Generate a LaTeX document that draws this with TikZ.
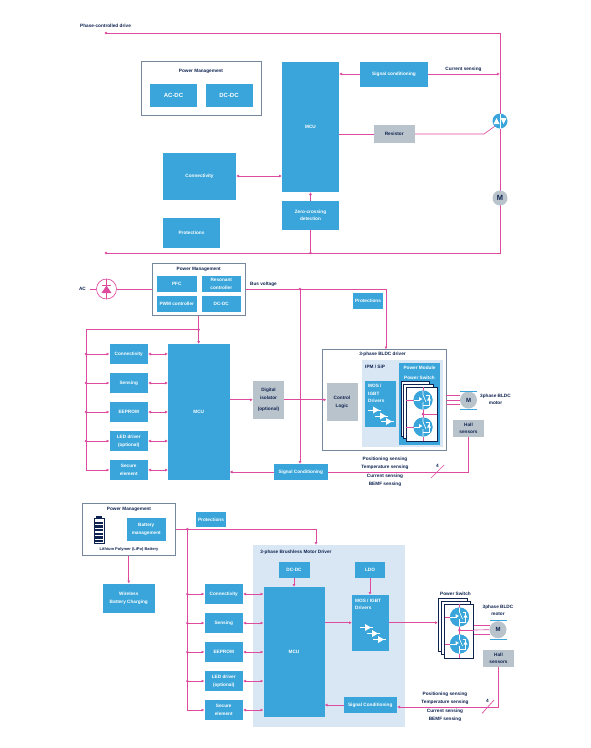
\documentclass[tikz,border=0pt]{standalone}
\usepackage{fontspec}
\setmainfont{Liberation Sans}
\usetikzlibrary{arrows.meta,calc}
\pgfdeclarelayer{panel}\pgfdeclarelayer{wires}
\pgfsetlayers{panel,wires,main}
\definecolor{stblue}{HTML}{39A5DA}
\definecolor{stpink}{HTML}{DE4A9E}
\definecolor{stnavy}{HTML}{0F2350}
\definecolor{stgray}{HTML}{B9C3CC}
\definecolor{stlight}{HTML}{D9E7F4}
\definecolor{stedge}{HTML}{75879B}
\tikzset{
  txt/.style={font=\bfseries\fontsize{4.7}{7.6}\selectfont,align=center,inner sep=0pt,text=stnavy},
  boxbase/.style={inner sep=0pt,outer sep=0pt,align=center,font=\bfseries\fontsize{4.7}{7.6}\selectfont},
  bluebox/.style={boxbase,fill=stblue,text=white},
  graybox/.style={boxbase,fill=stgray,text=stnavy},
  framebox/.style={boxbase,draw=stedge,line width=.7pt,fill=white},
  lightbox/.style={boxbase,fill=stlight},
  sheet/.style={boxbase,draw=stnavy,line width=.4pt,fill=white},
  wire/.style={draw=stpink,line width=.65pt},
  arr/.style={wire,-{Latex[length=3pt,width=3pt]}},
  both/.style={wire,{Latex[length=3pt,width=3pt]}-{Latex[length=3pt,width=3pt]}},
  jdot/.style={circle,fill=stpink,inner sep=0pt,minimum size=2.6pt,outer sep=0pt},
  swcirc/.style={circle,fill=stblue,inner sep=0pt,minimum size=19pt,outer sep=0pt},
  motor/.style={circle,fill=stgray,inner sep=0pt,minimum size=17pt,outer sep=0pt,text=stnavy,font=\bfseries\fontsize{6}{7}\selectfont},
  bar/.style={draw=stblue,line width=.9pt},
}
\newcommand{\bx}[7]{\node[#6,minimum width={(#4-#2)*1pt},minimum height={(#5-#3)*1pt}] (#1) at ({(#2+#4)/2},{(#3+#5)/2}) {#7};}
% switch icon
\newcommand{\swicon}[3]{%
  \node[swcirc] (#1) at (#2,#3) {};
  \draw[white,line width=.6pt] (#2,#3-9.5) -- (#2,#3-5) -- (#2+3,#3+2) (#2,#3+2) -- (#2,#3+9.5);
  \draw[white,line width=.6pt] (#2-9.5,#3) -- (#2-3,#3);
  \fill[white] (#2-4,#3-3) -- (#2-.5,#3-1) -- (#2-4,#3+1) -- cycle;
  \draw[white,line width=.6pt] (#2+3,#3-5) -- (#2+6,#3-5) -- (#2+6,#3+5) -- (#2,#3+5);
  \fill[white] (#2+4,#3+.5) -- (#2+8,#3+.5) -- (#2+6,#3-3) -- cycle;
}
% driver icon
\newcommand{\drv}[2]{%
  \draw[white,line width=.4pt] (#1-5,#2) -- (#1+8,#2);
  \fill[white] (#1,#2-3.5) -- (#1+6,#2) -- (#1,#2+3.5) -- cycle;
}
\begin{document}
\begin{tikzpicture}[x=1pt,y=-1pt]
\useasboundingbox (0,0) rectangle (591,748);
\begin{pgfonlayer}{panel}
\fill[white] (0,0) rectangle (591,748);
\end{pgfonlayer}

% ================= top diagram
\node[txt,anchor=west] (tTitle) at (80,25.5) {Phase-controlled drive};
\bx{tPM}{141.7}{61.7}{261.7}{115.3}{framebox}{}
\node[txt] (tPMt) at (201,71.5) {Power Management};
\bx{tAC}{150}{84}{197}{107}{bluebox,font=\bfseries\fontsize{6}{7}\selectfont}{AC-DC}
\bx{tDC}{205.5}{84}{252.5}{107}{bluebox,font=\bfseries\fontsize{6}{7}\selectfont}{DC-DC}
\bx{tMCU}{282}{62}{339}{192}{bluebox}{MCU}
\bx{tSig}{360}{62}{428}{86.7}{bluebox}{Signal conditioning}
\bx{tRes}{373.5}{125}{415}{143}{graybox}{Resistor}
\bx{tCon}{163}{152.5}{236}{199.5}{bluebox}{Connectivity}
\bx{tZero}{282}{201}{339}{230}{bluebox}{Zero-crossing\\detection}
\bx{tPro}{163}{217.5}{220}{247.5}{bluebox}{Protections}
\node[txt] (tCur) at (463.5,69.5) {Current sensing};
\node[swcirc,minimum size=15pt] (tTri) at (500,121) {};
\fill[white] (493.5,124) -- (499.5,124) -- (496.5,118) -- cycle;
\fill[white] (500.5,118) -- (506.5,118) -- (503.5,124) -- cycle;
\draw[white,line width=.4pt] (500,113.5) -- (500,128.5);
\node[motor,minimum size=15pt,font=\bfseries\fontsize{7.5}{8}\selectfont] (tM) at (500,198) {M};
\coordinate (tA) at (106,33);
\coordinate (tB) at (500,33);
\coordinate (tC) at (500,253);
\coordinate (tD) at (106,253);
\coordinate (tJ) at (310.5,253);
\coordinate (tK) at (500,74);
\coordinate (tBend) at (484,134);
\node[jdot] (tAd) at (tA) {};
\node[jdot] (tDd) at (tD) {};
\node[jdot] (tJd) at (tJ) {};
\begin{pgfonlayer}{wires}
\draw[wire] (tA) -- (tB) -- (tC) -- (tD);
\draw[arr] (tSig.west |- 0,74) -- (tMCU.east |- 0,74);
\draw[arr] (tSig.east |- 0,74) -- (tK);
\draw[wire] (tMCU.east |- 0,134) -- (tRes.west |- 0,134);
\draw[wire] (tRes.east |- 0,134) -- (tBend) -- (tTri.225);
\draw[both] (tCon.east |- 0,176) -- (tMCU.west |- 0,176);
\draw[arr] (tZero.north) -- (tMCU.south);
\draw[wire] (tJ) -- (tZero.south);
\end{pgfonlayer}

% ================= middle diagram
\node[txt] (mAC) at (82.5,289) {AC};
\node[circle,draw=stpink,line width=.65pt,fill=white,inner sep=0pt,minimum size=20pt] (mDi) at (106.5,289) {};
\fill[stpink] (101.5,293) -- (111.5,293) -- (106.5,285.5) -- cycle;
\draw[stpink,line width=.6pt] (102,285.5) -- (111,285.5) (106.5,279) -- (106.5,299);
\bx{mPM}{152}{263.5}{245.5}{315.5}{framebox}{}
\node[txt] (mPMt) at (198.7,269.5) {Power Management};
\bx{mPFC}{157}{276}{196.5}{292}{bluebox}{PFC}
\bx{mRes}{201.5}{276}{241}{292}{bluebox}{Resonant\\controller}
\bx{mPWM}{157}{296}{196.5}{312}{bluebox}{PWM controller}
\bx{mDC}{201.5}{296}{241}{312}{bluebox}{DC-DC}
\node[txt,anchor=west] (mBus) at (250,284.5) {Bus voltage};
\bx{mPro}{353}{293}{383}{309}{bluebox}{Protections}
\bx{mc1}{109.5}{344}{148}{364}{bluebox}{Connectivity}
\bx{mc2}{109.5}{373}{148}{393}{bluebox}{Sensing}
\bx{mc3}{109.5}{402}{148}{422}{bluebox}{EEPROM}
\bx{mc4}{109.5}{431}{148}{451}{bluebox}{LED driver\\(optional)}
\bx{mc5}{109.5}{460}{148}{480}{bluebox}{Secure\\element}
\bx{mMCU}{168}{344}{229.5}{480}{bluebox}{MCU}
\bx{mIso}{253}{381}{284}{418.5}{graybox}{Digital\\isolator\\[3pt](optional)}
\bx{mSig}{273.5}{464}{328}{480}{bluebox}{Signal Conditioning}
\begin{pgfonlayer}{panel}
\bx{mDrv}{322.7}{349.5}{446}{450}{framebox}{}
\bx{mIPM}{361.5}{360}{443}{447}{lightbox}{}
\end{pgfonlayer}
\node[txt] (mDrvt) at (382.5,354.5) {3-phase BLDC driver};
\node[txt,anchor=west] (mIPMt) at (365,367) {IPM / SiP};
\bx{mCtl}{326.5}{383}{357.5}{421}{graybox}{Control\\Logic}
\bx{mMOS}{365}{381}{395.5}{427}{bluebox}{}
\node[txt,text=white,anchor=north west,align=left] (mMOSt) at (368,384) {MOS /\\IGBT\\Drivers};
\drv{373}{410}\drv{380}{416}\drv{386}{421.5}
\bx{mMod}{399}{362.5}{440}{445}{bluebox}{}
\node[txt,text=white] (mModt) at (419.5,368) {Power Module};
\node[txt,text=white] (mSwt) at (419.5,378) {Power Switch};
\bx{mS1}{401}{381}{429}{436}{sheet}{}
\bx{mS2}{403.5}{384}{433}{438.5}{sheet}{}
\bx{mS3}{406}{387}{437}{441}{sheet}{}
\node[swcirc] (mQ1) at (423,400) {};
\node[swcirc] (mQ2) at (423,427) {};
\draw[wire] (mQ1.center) -- (mQ2.center) (423,414) -- (mS3.east |- 0,414) (mS3.west |- mQ1.center) -- (mQ1.west) (mS3.west |- mQ2.center) -- (mQ2.west);
\draw[wire] (mQ2.south) -- (mS3.south -| mQ2.center) (mQ1.north) -- (mS3.north -| mQ1.center);
\swicon{mQ1b}{423}{400}
\swicon{mQ2b}{423}{427}
\node[jdot,minimum size=3pt] (mJ) at (423,414) {};
\node[motor] (mM) at (468.5,400) {M};
\draw[bar] (460,391) -- (477,391) (460,409.5) -- (477,409.5);
\node[txt,anchor=center] (mMt) at (495.5,399.5) {3phase BLDC\\motor};
\bx{mHall}{453}{420}{484}{437}{graybox}{Hall\\sensors}
\node[txt] (mL1) at (385,459) {Positioning sensing};
\node[txt] (mL2) at (385,467.5) {Temperature sensing};
\node[txt] (mL3) at (385,476) {Current sensing};
\node[txt] (mL4) at (385,484.5) {BEMF sensing};
\node[txt] (mFour) at (437.5,465.5) {4};
\coordinate (mTop) at (198.7,329.7);
\coordinate (mLeft) at (86,329.7);
\coordinate (mBot) at (86,470);
\coordinate (mBusJ) at (300,289);
\coordinate (mBusR) at (386,289);
\coordinate (mHallC) at (468,472);
\coordinate (sl1) at (431,478);
\coordinate (sl2) at (444,465);
\coordinate (acL) at (90,289);
\node[jdot] (mTopd) at (mTop) {};
\node[jdot] (mBusJd) at (mBusJ) {};
\foreach \y in {354,383,412,441} {\node[jdot] at (86,\y) {};}
\begin{pgfonlayer}{wires}
\draw[wire] (acL) -- (mDi.west) (mDi.east) -- (mPM.west |- mDi.center);
\draw[wire] (mPM.east |- 0,289) -- (mBusR);
\draw[arr] (mBusR) -- (mDrv.north -| mBusR);
\draw[arr] (mBusJ) -- (mSig.north -| mBusJ);
\draw[arr] (mPM.south -| mTop) -- (mMCU.north -| mTop);
\draw[wire] (mTop) -- (mLeft) -- (mBot);
\foreach \n/\y in {mc1/354,mc2/383,mc3/412,mc4/441,mc5/470} {
  \draw[arr] (86,\y) -- (\n.west);
  \draw[both] (\n.east) -- (mMCU.west |- \n.east);
}
\draw[arr] (mMCU.east |- mIso.center) -- (mIso.west);
\draw[arr] (mIso.east) -- (mCtl.west |- mIso.center);
\draw[arr] (mSig.west) -- (mMCU.east |- mSig.center);
\draw[wire] (mSig.east) -- (mHallC) -- (mHall.south -| mHallC);
\draw[wire] (sl1) -- (sl2);
\draw[wire] (mDrv.east |- 0,395) -- (460,395);
\draw[wire] (mDrv.east |- 0,400) -- (mM.west);
\draw[wire] (mDrv.east |- 0,404.5) -- (460,404.5);
\end{pgfonlayer}

% ================= bottom diagram
\bx{bPM}{82.5}{503.5}{175.5}{555.5}{framebox}{}
\node[txt] (bPMt) at (129,509.5) {Power Management};
\bx{bBat}{126.5}{517.5}{166}{541}{bluebox}{Battery\\management}
\node[txt,font=\bfseries\fontsize{4}{5}\selectfont] (bLi) at (129,549) {Lithium Polymer (LiPo) Battery};
\node[draw=stnavy,line width=.6pt,fill=white,minimum width=10pt,minimum height=25pt,inner sep=0pt,outer sep=0pt] (bCell) at (99,531) {};
\fill[stnavy] (96,516) rectangle (102,518.5);
\foreach \y in {521.5,525.2,528.9,532.6,536.3,540} {\fill[stnavy] (95,\y) rectangle (103,\y+2.4);}
\bx{bPro}{196}{512}{226}{527}{bluebox}{Protections}
\bx{bWir}{103}{583.5}{154.5}{612.5}{bluebox}{Wireless\\Battery Charging}
\begin{pgfonlayer}{panel}
\bx{bPan}{253}{545}{405}{727}{lightbox}{}
\end{pgfonlayer}
\node[txt] (bPant) at (296,552) {3-phase Brushless Motor Driver};
\bx{bDC}{278.5}{562}{309.5}{578}{bluebox}{DC-DC}
\bx{bLDO}{355}{562}{385}{578}{bluebox}{LDO}
\bx{bMCU}{263.5}{587}{324.5}{717}{bluebox}{MCU}
\bx{bMOS}{352}{595}{388.5}{650.5}{bluebox}{}
\node[txt,text=white,anchor=north west,align=left] (bMOSt) at (355,598.5) {MOS / IGBT\\Drivers};
\drv{365}{627.5}\drv{372}{633.5}\drv{378}{639.5}
\bx{bSig}{343.5}{697}{397}{713}{bluebox}{Signal Conditioning}
\bx{bc1}{204.5}{584}{243}{604}{bluebox}{Connectivity}
\bx{bc2}{204.5}{613}{243}{633}{bluebox}{Sensing}
\bx{bc3}{204.5}{642}{243}{662}{bluebox}{EEPROM}
\bx{bc4}{204.5}{671}{243}{691}{bluebox}{LED driver\\(optional)}
\bx{bc5}{204.5}{700}{243}{720}{bluebox}{Secure\\element}
\node[txt] (bSwt) at (455.5,593.5) {Power Switch};
\bx{bS1}{438}{598}{467}{651.5}{sheet}{}
\bx{bS2}{441}{601}{470.5}{654.5}{sheet}{}
\bx{bS3}{444.5}{604}{473.5}{658}{sheet}{}
\node[motor] (bM) at (498,629.7) {M};
\draw[bar] (490,620.5) -- (507,620.5) (490,639) -- (507,639);
\node[txt] (bMt) at (498,610.5) {3phase BLDC\\motor};
\bx{bHall}{483}{650}{514}{667}{graybox}{Hall\\sensors}
\node[txt] (bL1) at (445,694) {Positioning sensing};
\node[txt] (bL2) at (445,702.5) {Temperature sensing};
\node[txt] (bL3) at (445,711) {Current sensing};
\node[txt] (bL4) at (445,719.5) {BEMF sensing};
\node[txt] (bFour) at (487.5,701) {4};
\coordinate (bJ) at (187.3,529);
\coordinate (bBot) at (187.3,710);
\coordinate (bR) at (316,529);
\coordinate (bHallC) at (498,707);
\coordinate (bs1) at (482,713.5);
\coordinate (bs2) at (494,700);
\node[jdot] (bJd) at (bJ) {};
\foreach \y in {594,623,652,681} {\node[jdot] at (187.3,\y) {};}
\begin{pgfonlayer}{wires}
\draw[wire] (bCell.east |- bBat.center) -- (bBat.west);
\draw[wire] (bPM.east |- bJ) -- (bR);
\draw[arr] (bR) -- (bPan.north -| bR);
\draw[wire] (bJ) -- (bBot);
\draw[arr] (bPM.south -| bWir.north) -- (bWir.north);
\draw[arr] (bDC.south) -- (bMCU.north -| bDC.south);
\draw[arr] (bLDO.south) -- (bMOS.north -| bLDO.south);
\foreach \n/\y in {bc1/594,bc2/623,bc3/652,bc4/681,bc5/710} {
  \draw[arr] (187.3,\y) -- (\n.west);
  \draw[both] (\n.east) -- (bMCU.west |- \n.east);
}
\draw[arr] (bMCU.east |- 0,622.7) -- (bMOS.west |- 0,622.7);
\draw[arr] (bMOS.east |- 0,622.7) -- (bS1.west |- 0,622.7);
\draw[arr] (bSig.west) -- (bMCU.east |- bSig.center);
\draw[arr] (bHall.south -| bHallC) -- (bHallC) -- (bSig.east |- 0,707);
\draw[wire] (bs1) -- (bs2);
\draw[wire] (bS3.east |- 0,625) -- (490,625);
\draw[wire] (bS3.east |- 0,630) -- (bM.west);
\draw[wire] (bS3.east |- 0,634) -- (490,634);
\end{pgfonlayer}
\node[swcirc] (bQ1) at (459.5,617) {};
\node[swcirc] (bQ2) at (459.5,644) {};
\draw[wire] (bQ1.center) -- (bQ2.center) (bS3.west |- bQ1.center) -- (bQ1.west) (bS3.west |- bQ2.center) -- (bQ2.west);
\draw[wire] (bQ1.north) -- (bS3.north -| bQ1.center) (bQ2.south) -- (bS3.south -| bQ2.center);
\draw[wire] (459.5,630) -- (473.5,630);
\swicon{bQ1b}{459.5}{617}
\swicon{bQ2b}{459.5}{644}
\node[jdot,minimum size=3pt] (bJ2) at (459.5,630) {};
\end{tikzpicture}
\end{document}
